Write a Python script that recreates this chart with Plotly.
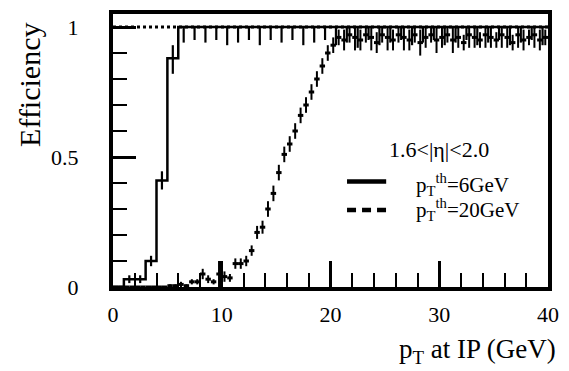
import plotly.graph_objects as go

# ---- data ----
# 6 GeV threshold: 1 GeV bins from 0 to 40
edges_6 = list(range(0, 41))
eff_6 = [0.0, 0.03, 0.03, 0.10, 0.41, 0.88,
         1.0, 1.0, 1.0, 1.0, 1.0, 1.0, 1.0, 1.0, 1.0, 1.0, 1.0, 1.0, 1.0, 1.0,
         1.0, 1.0, 1.0, 1.0, 1.0, 1.0, 1.0, 1.0, 1.0, 1.0, 1.0, 1.0, 1.0, 1.0,
         1.0, 1.0, 1.0, 1.0, 1.0, 1.0]
err_6_lo = [0.0, 0.015, 0.015, 0.02, 0.035, 0.06,
            0.06, 0.05, 0.06, 0.05, 0.07, 0.06, 0.05, 0.07, 0.05, 0.06, 0.05, 0.07, 0.06, 0.05,
            0.07, 0.06, 0.08, 0.05, 0.07, 0.06, 0.05, 0.07, 0.06, 0.05, 0.07, 0.06, 0.05, 0.07,
            0.06, 0.05, 0.07, 0.06, 0.05, 0.07]
err_6_hi = [0.0, 0.015, 0.015, 0.02, 0.035, 0.05] + [0.0] * 34

# 20 GeV threshold: 0.5 GeV bins from 0 to 40
edges_20 = [i * 0.5 for i in range(0, 81)]
eff_20 = [0.0, 0.0, 0.0, 0.0, 0.0, 0.0, 0.0, 0.0, 0.0, 0.0,
          0.005, 0.005, 0.01, 0.005, 0.02, 0.02, 0.05, 0.03, 0.02, 0.05,
          0.04, 0.035, 0.09, 0.09, 0.10, 0.14, 0.21, 0.23, 0.30, 0.36,
          0.44, 0.51, 0.55, 0.60, 0.66, 0.70, 0.75, 0.80, 0.85, 0.90,
          0.93, 0.96, 0.95, 0.97, 0.96, 0.95, 0.97, 0.96, 0.94, 0.97,
          0.96, 0.95, 0.97, 0.96, 0.95, 0.97, 0.94, 0.96, 0.97, 0.95,
          0.96, 0.97, 0.95, 0.96, 0.94, 0.97, 0.96, 0.95, 0.97, 0.96,
          0.95, 0.97, 0.96, 0.94, 0.97, 0.95, 0.96, 0.97, 0.95, 0.96]
err_20 = [0.0] * 10 + [0.005, 0.005, 0.01, 0.005, 0.01, 0.01, 0.02, 0.015, 0.01, 0.05,
          0.02, 0.015, 0.02, 0.02, 0.02, 0.02, 0.025, 0.025, 0.03, 0.03,
          0.03, 0.03, 0.03, 0.03, 0.03, 0.03, 0.03, 0.03, 0.03, 0.03,
          0.03, 0.03] + [0.04, 0.03, 0.05, 0.04, 0.03, 0.05, 0.04, 0.03, 0.05, 0.04,
                         0.03, 0.05, 0.04, 0.03, 0.05, 0.04, 0.03, 0.05, 0.04, 0.03,
                         0.05, 0.04, 0.03, 0.05, 0.04, 0.03, 0.05, 0.04, 0.03, 0.05,
                         0.04, 0.03, 0.05, 0.04, 0.03, 0.05, 0.04, 0.03]

x_ticks = [0, 10, 20, 30, 40]
x_ticklabels = ["0", "10", "20", "30", "40"]
y_ticks = [0, 0.5, 1]
y_ticklabels = ["0", "0.5", "1"]

FONT = "Liberation Serif"

fig = go.Figure()

# reference dotted line at efficiency 1
fig.add_trace(go.Scatter(x=[edges_6[0], edges_6[-1]], y=[1, 1], mode="lines",
                         line=dict(color="black", width=3, dash="dot"),
                         showlegend=False, hoverinfo="skip"))

# 6 GeV step histogram
fig.add_trace(go.Scatter(x=edges_6, y=eff_6 + [eff_6[-1]], mode="lines",
                         line=dict(color="black", width=2.5, shape="hv"),
                         showlegend=False, hoverinfo="skip"))
centers_6 = [(edges_6[i] + edges_6[i + 1]) / 2 for i in range(len(eff_6))]
fig.add_trace(go.Scatter(x=centers_6, y=eff_6, mode="markers",
                         marker=dict(size=1, color="black"),
                         error_y=dict(type="data", symmetric=False, array=err_6_hi,
                                      arrayminus=err_6_lo, color="black",
                                      thickness=2.2, width=0),
                         showlegend=False, hoverinfo="skip"))

# 20 GeV histogram: horizontal bin segments
seg_x, seg_y = [], []
for i, v in enumerate(eff_20):
    seg_x += [edges_20[i], edges_20[i + 1], None]
    seg_y += [v, v, None]
fig.add_trace(go.Scatter(x=seg_x, y=seg_y, mode="lines",
                         line=dict(color="black", width=3),
                         showlegend=False, hoverinfo="skip"))
centers_20 = [(edges_20[i] + edges_20[i + 1]) / 2 for i in range(len(eff_20))]
err_20_hi = [min(e, 1.0 - v) for e, v in zip(err_20, eff_20)]
fig.add_trace(go.Scatter(x=centers_20, y=eff_20, mode="markers",
                         marker=dict(size=1, color="black"),
                         error_y=dict(type="data", symmetric=False, array=err_20_hi,
                                      arrayminus=err_20, color="black",
                                      thickness=2, width=0),
                         showlegend=False, hoverinfo="skip"))

fig.update_layout(
    width=569, height=371,
    margin=dict(l=113, r=12, t=10, b=84),
    paper_bgcolor="white", plot_bgcolor="white",
    font=dict(family=FONT, color="black", size=22),
    showlegend=False,
)
fig.update_xaxes(range=[0, 40], tickmode="array", tickvals=x_ticks, ticktext=x_ticklabels,
                 ticks="inside", ticklen=26, tickwidth=2.5, tickcolor="black",
                 minor=dict(dtick=2, ticks="inside", ticklen=14, tickwidth=2, tickcolor="black"),
                 showline=True, linewidth=4, linecolor="black", mirror=True,
                 showgrid=False, zeroline=False, ticklabelstandoff=5,
                 tickfont=dict(family=FONT, size=22, color="black"))
fig.update_yaxes(range=[0, 1.05], tickmode="array", tickvals=y_ticks, ticktext=y_ticklabels,
                 ticks="inside", ticklen=23, tickwidth=2.5, tickcolor="black",
                 minor=dict(dtick=0.1, tick0=0, ticks="inside", ticklen=14, tickwidth=2,
                            tickcolor="black"),
                 showline=True, linewidth=4, linecolor="black", mirror=True,
                 showgrid=False, zeroline=False, ticklabelstandoff=26,
                 tickfont=dict(family=FONT, size=22, color="black"))

# axis titles
fig.add_annotation(text="Efficiency", xref="paper", yref="paper", x=-0.191, y=0.74,
                   textangle=-90, showarrow=False, font=dict(family=FONT, size=30),
                   xanchor="center", yanchor="middle")
fig.add_annotation(text="p<sub>T</sub> at IP (GeV)", xref="paper", yref="paper", x=1.022, y=-0.235,
                   showarrow=False, font=dict(family=FONT, size=27),
                   xanchor="right", yanchor="middle")

# legend
fig.add_annotation(text="1.6&lt;|η|&lt;2.0", xref="paper", yref="paper", x=0.75, y=0.505,
                   showarrow=False, font=dict(family=FONT, size=22),
                   xanchor="center", yanchor="middle")
fig.add_annotation(text="p<sub>T</sub><sup>th</sup>=6GeV", xref="paper", yref="paper",
                   x=0.691, y=0.375, showarrow=False, font=dict(family=FONT, size=21),
                   xanchor="left", yanchor="middle")
fig.add_annotation(text="p<sub>T</sub><sup>th</sup>=20GeV", xref="paper", yref="paper",
                   x=0.691, y=0.285, showarrow=False, font=dict(family=FONT, size=21),
                   xanchor="left", yanchor="middle")
fig.add_shape(type="line", xref="paper", yref="paper", x0=0.538, x1=0.628, y0=0.386, y1=0.386,
              line=dict(color="black", width=4.5))
fig.add_shape(type="line", xref="paper", yref="paper", x0=0.538, x1=0.628, y0=0.282, y1=0.282,
              line=dict(color="black", width=4.5, dash="9px,6px"))

fig.write_html("out.html")
